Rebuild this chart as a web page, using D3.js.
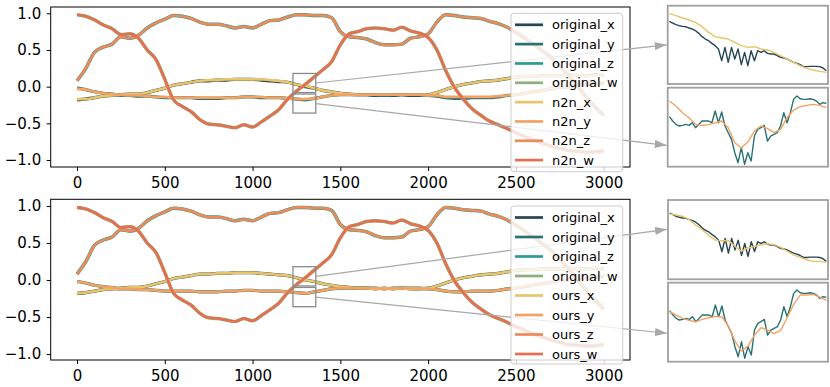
<!DOCTYPE html>
<html>
<head>
<meta charset="utf-8">
<script src="https://cdn.jsdelivr.net/npm/d3@7"></script>
<style>
body { margin: 0; background: #fff; }
svg { font-family: "DejaVu Sans", sans-serif; }
</style>
</head>
<body>
<svg width="830" height="387"></svg>
<script>
// quaternion keyframes, one sample every 50 frames (0..3000)
var frames = d3.range(0, 3001, 50);

var origX = [-0.18,-0.17,-0.15,-0.13,-0.12,-0.11,-0.10,-0.10,-0.08,-0.05,-0.02,0.02,0.04,
  0.06,0.08,0.08,0.09,0.09,0.10,0.10,0.10,0.09,0.08,0.07,0.06,
  0.03,0.00,-0.02,-0.05,-0.07,-0.09,-0.10,-0.11,-0.11,-0.12,-0.11,-0.12,
  -0.11,-0.12,-0.12,-0.11,-0.08,-0.04,0.00,0.03,0.05,0.07,0.08,0.09,
  0.11,0.13,0.14,0.14,0.15,0.15,0.15,0.16,0.15,0.15,0.16,0.15];
var origY = [-0.02,-0.04,-0.07,-0.09,-0.10,-0.12,-0.12,-0.13,-0.13,-0.14,-0.15,-0.15,-0.15,
  -0.15,-0.16,-0.16,-0.16,-0.15,-0.15,-0.14,-0.14,-0.15,-0.15,-0.15,-0.16,
  -0.17,-0.18,-0.16,-0.14,-0.12,-0.11,-0.11,-0.11,-0.11,-0.11,-0.12,-0.11,
  -0.11,-0.11,-0.11,-0.12,-0.13,-0.15,-0.16,-0.16,-0.15,-0.15,-0.15,-0.14,
  -0.12,-0.11,-0.09,-0.07,-0.05,-0.03,-0.01,0.00,0.02,0.03,0.04,0.05];
var origZ = [0.08,0.25,0.47,0.54,0.58,0.68,0.66,0.70,0.80,0.87,0.92,0.97,0.96,
  0.93,0.88,0.85,0.85,0.83,0.80,0.82,0.80,0.85,0.90,0.91,0.95,
  0.98,0.98,0.97,0.97,0.94,0.75,0.68,0.67,0.65,0.60,0.57,0.57,
  0.58,0.66,0.68,0.72,0.88,0.98,0.97,0.95,0.94,0.93,0.89,0.86,
  0.81,0.74,0.66,0.58,0.49,0.40,0.28,0.15,0.01,-0.14,-0.27,-0.39];
var origW = [0.98,0.96,0.91,0.84,0.79,0.71,0.72,0.66,0.50,0.37,0.10,-0.18,-0.27,
  -0.34,-0.45,-0.51,-0.52,-0.54,-0.56,-0.52,-0.55,-0.48,-0.40,-0.31,-0.17,
  -0.06,0.03,0.13,0.23,0.34,0.57,0.72,0.75,0.79,0.80,0.79,0.77,
  0.81,0.76,0.73,0.67,0.50,0.22,-0.01,-0.17,-0.30,-0.39,-0.47,-0.52,
  -0.57,-0.63,-0.68,-0.73,-0.77,-0.81,-0.84,-0.87,-0.88,-0.89,-0.89,-0.87];

var n2nX = [-0.17,-0.17,-0.15,-0.13,-0.12,-0.11,-0.10,-0.10,-0.08,-0.05,-0.02,0.02,0.04,
  0.06,0.08,0.09,0.09,0.10,0.10,0.10,0.10,0.10,0.09,0.08,0.06,
  0.03,0.01,-0.02,-0.05,-0.07,-0.09,-0.10,-0.11,-0.11,-0.11,-0.11,-0.11,
  -0.11,-0.11,-0.11,-0.11,-0.08,-0.04,0.00,0.03,0.05,0.07,0.08,0.09,
  0.11,0.13,0.14,0.14,0.15,0.15,0.15,0.15,0.15,0.15,0.15,0.15];
var n2nY = [-0.03,-0.04,-0.07,-0.09,-0.10,-0.11,-0.12,-0.12,-0.13,-0.14,-0.14,-0.15,-0.15,
  -0.15,-0.15,-0.15,-0.15,-0.15,-0.15,-0.14,-0.14,-0.14,-0.15,-0.15,-0.16,
  -0.17,-0.17,-0.16,-0.14,-0.12,-0.11,-0.11,-0.11,-0.11,-0.11,-0.11,-0.11,
  -0.11,-0.11,-0.11,-0.12,-0.12,-0.14,-0.14,-0.14,-0.14,-0.14,-0.14,-0.13,
  -0.12,-0.11,-0.09,-0.07,-0.05,-0.03,-0.01,0.00,0.02,0.03,0.04,0.05];
// n2n / ours z and w coincide with the originals at this scale
var n2nZ = origZ, n2nW = origW;

var oursX = [-0.18,-0.17,-0.15,-0.13,-0.12,-0.11,-0.10,-0.10,-0.08,-0.05,-0.02,0.02,0.04,
  0.06,0.08,0.08,0.09,0.09,0.10,0.10,0.10,0.09,0.08,0.07,0.06,
  0.03,0.00,-0.02,-0.05,-0.07,-0.09,-0.10,-0.11,-0.11,-0.12,-0.11,-0.12,
  -0.11,-0.12,-0.12,-0.11,-0.08,-0.04,0.00,0.03,0.05,0.07,0.08,0.09,
  0.11,0.13,0.14,0.14,0.15,0.15,0.15,0.16,0.15,0.15,0.16,0.15];
var oursY = [-0.02,-0.04,-0.07,-0.09,-0.10,-0.12,-0.12,-0.13,-0.13,-0.14,-0.15,-0.15,-0.15,
  -0.15,-0.16,-0.16,-0.16,-0.15,-0.15,-0.14,-0.14,-0.15,-0.15,-0.15,-0.16,
  -0.17,-0.18,-0.16,-0.14,-0.12,-0.11,-0.11,-0.11,-0.11,-0.11,-0.12,-0.11,
  -0.11,-0.11,-0.11,-0.12,-0.13,-0.15,-0.16,-0.16,-0.15,-0.15,-0.15,-0.14,
  -0.12,-0.11,-0.09,-0.07,-0.05,-0.03,-0.01,0.00,0.02,0.03,0.04,0.05];
var oursZ = origZ, oursW = origW;

var xTicks = [0, 500, 1000, 1500, 2000, 2500, 3000];
var yTicks = [-1.0, -0.5, 0.0, 0.5, 1.0];

// zoomed windows (frames 1235..1355), inset values in units of 4e-4
var insetFramesFine = d3.range(1235, 1355.01, 2.5);
var insetFrames = d3.range(1235, 1355.01, 5);
var insetOrigX = [73,68,63,60,58,57,53,50,45,37,27,20,15,7,0,-10,-45,-5,-50,-5,
  -40,-10,-57,-20,-60,-15,-45,-15,-20,-15,-23,-25,-25,-30,-35,-37,-40,-45,-50,-53,
  -57,-63,-63,-62,-62,-62,-63,-67,-75];
var insetOrigY = [33,20,10,5,7,10,7,15,0,10,20,20,20,15,50,15,47,5,-15,-35,
  -75,-105,-60,-110,-75,-100,-25,-5,0,7,-40,-25,-20,-15,5,45,15,45,85,95,
  87,85,85,87,85,80,70,75,73];
var insetN2nX = [97,90,83,77,70,57,40,27,23,20,10,0,-5,-3,-10,-13,-20,-30,-40,-50,-60,-68,-73,-77,-80];
var insetN2nY = [80,65,45,30,10,7,9,15,20,0,-45,-60,-43,-10,5,-3,-15,-5,30,53,63,67,70,67,60];
var insetOursX = [70,67,63,53,35,22,4,-10,-12,-11,-29,-44,-34,-29,-24,-21,-24,-32,-44,-55,-63,-70,-75,-75,-78];
var insetOursY = [30,20,10,4,0,7,12,16,14,-13,-58,-88,-73,-40,-18,-25,-36,-26,12,52,80,80,82,74,64];

// regions marked in the main plots
var zoomFrames = [1230, 1360];
var zoomBoxX = [-0.08, 0.18];
var zoomBoxY = [-0.36, -0.10];

var colors = {
  original_x: "#264653", original_y: "#287271", original_z: "#2a9d8f", original_w: "#8ab17d",
  m_x: "#e9c46a", m_y: "#f4a261", m_z: "#ee8959", m_w: "#e76f51"
};

var svg = d3.select("svg");
svg.append("rect").attr("width", 830).attr("height", 387).attr("fill", "#fff");

svg.append("defs").append("marker")
    .attr("id", "arrow")
    .attr("markerUnits", "userSpaceOnUse")
    .attr("viewBox", "0 0 12 8")
    .attr("markerWidth", 12).attr("markerHeight", 8)
    .attr("refX", 12).attr("refY", 4)
    .attr("orient", "auto")
  .append("path").attr("d", "M0,0L12,4L0,8Z").attr("fill", "#a8a8a8");

var panels = [
  { method: "n2n", top: 7, bottom: 167, yDom: [-1.095, 1.086],
    mx: n2nX, my: n2nY, mz: n2nZ, mw: n2nW,
    legendTop: 13.3, legendH: 158.4, legendStep: 19.33,
    insets: [
      { x0: 667.7, x1: 828, y0: 5.7, y1: 84, dom: [-115, 120], box: zoomBoxX, frac: 0.5,
        lines: [[insetFramesFine, insetOrigX, colors.original_x], [insetFrames, insetN2nX, colors.m_x]] },
      { x0: 667.7, x1: 828, y0: 87.7, y1: 166.7, dom: [-117, 120], box: zoomBoxY, frac: 0.73,
        lines: [[insetFramesFine, insetOrigY, colors.original_y], [insetFrames, insetN2nY, colors.m_y]] }
    ] },
  { method: "ours", top: 199.3, bottom: 360, yDom: [-1.08, 1.09],
    mx: oursX, my: oursY, mz: oursZ, mw: oursW,
    legendTop: 206, legendH: 158, legendStep: 19.5,
    insets: [
      { x0: 668, x1: 828, y0: 200, y1: 279.3, dom: [-130, 113], box: zoomBoxX, frac: 0.37,
        lines: [[insetFramesFine, insetOrigX, colors.original_x], [insetFrames, insetOursX, colors.m_x]] },
      { x0: 668, x1: 828, y0: 282.7, y1: 361.7, dom: [-120, 117], box: zoomBoxY, frac: 0.64,
        lines: [[insetFramesFine, insetOrigY, colors.original_y], [insetFrames, insetOursY, colors.m_y]] }
    ] }
];

var left = 50.7, right = 630;

panels.forEach(function(p, pi) {
  var x = d3.scaleLinear().domain([-150, 3150]).range([left, right]);
  var y = d3.scaleLinear().domain(p.yDom).range([p.bottom, p.top]);
  var g = svg.append("g");

  var line = d3.line()
      .x(function(d, i) { return x(frames[i]); })
      .y(function(d) { return y(d); })
      .curve(d3.curveMonotoneX);

  var series = [
    { name: "original_x", v: origX, c: colors.original_x, w: 3.2 },
    { name: "original_y", v: origY, c: colors.original_y, w: 3.2 },
    { name: "original_z", v: origZ, c: colors.original_z, w: 3.5 },
    { name: "original_w", v: origW, c: colors.original_w, w: 3.5 },
    { name: p.method + "_x", v: p.mx, c: colors.m_x, w: 2.7 },
    { name: p.method + "_y", v: p.my, c: colors.m_y, w: 2.7 },
    { name: p.method + "_z", v: p.mz, c: colors.m_z, w: 2.7 },
    { name: p.method + "_w", v: p.mw, c: colors.m_w, w: 2.7 }
  ];

  g.selectAll("path.series")
    .data(series)
    .enter().append("path")
      .attr("class", "series")
      .attr("fill", "none")
      .attr("stroke", function(d) { return d.c; })
      .attr("stroke-width", function(d) { return d.w; })
      .attr("stroke-linejoin", "round")
      .attr("d", function(d) { return line(d.v); });

  // axes
  var xAxis = g.append("g")
      .attr("transform", "translate(0," + p.bottom + ")")
      .call(d3.axisBottom(x).tickValues(xTicks).tickSize(4).tickPadding(6).tickFormat(d3.format("d")));
  var yAxis = g.append("g")
      .attr("transform", "translate(" + left + ",0)")
      .call(d3.axisLeft(y).tickValues(yTicks).tickSize(4).tickPadding(5.5).tickFormat(d3.format(".1f")));
  [xAxis, yAxis].forEach(function(a) {
    a.select(".domain").remove();
    a.selectAll("text").attr("font-size", 15).attr("fill", "#000").attr("font-family", "DejaVu Sans");
    a.selectAll("line").attr("stroke", "#000").attr("stroke-width", 1);
  });
  g.append("rect")
      .attr("x", left).attr("y", p.top)
      .attr("width", right - left).attr("height", p.bottom - p.top)
      .attr("fill", "none").attr("stroke", "#000").attr("stroke-width", 1);

  // zoom boxes, arrows and insets
  p.insets.forEach(function(ins) {
    var bx0 = x(zoomFrames[0]), bx1 = x(zoomFrames[1]);
    var by0 = y(ins.box[1]), by1 = y(ins.box[0]);
    g.append("rect")
        .attr("x", bx0).attr("y", by0)
        .attr("width", bx1 - bx0).attr("height", by1 - by0)
        .attr("fill", "none").attr("stroke", "#8a8a8a").attr("stroke-width", 1.3);

    var ty = ins.y0 + ins.frac * (ins.y1 - ins.y0);
    g.append("line")
        .attr("x1", bx1).attr("y1", (by0 + by1) / 2)
        .attr("x2", ins.x0 - 1).attr("y2", ty)
        .attr("stroke", "#a8a8a8").attr("stroke-width", 1.2)
        .attr("marker-end", "url(#arrow)");

    var ix = d3.scaleLinear().domain([1233.7, 1356.3]).range([ins.x0, ins.x1]);
    var iy = d3.scaleLinear().domain(ins.dom).range([ins.y1, ins.y0]);
    var clipId = "clip" + pi + "_" + ins.y0;
    svg.select("defs").append("clipPath").attr("id", clipId)
      .append("rect").attr("x", ins.x0).attr("y", ins.y0)
        .attr("width", ins.x1 - ins.x0).attr("height", ins.y1 - ins.y0);
    var ig = g.append("g").attr("clip-path", "url(#" + clipId + ")");
    ins.lines.forEach(function(l) {
      var fr = l[0];
      ig.append("path")
          .attr("fill", "none")
          .attr("stroke", l[2])
          .attr("stroke-width", 1.4)
          .attr("stroke-linejoin", "round")
          .attr("d", d3.line()
              .x(function(d, i) { return ix(fr[i]); })
              .y(function(d) { return iy(d); })(l[1]));
    });
    g.append("rect")
        .attr("x", ins.x0).attr("y", ins.y0)
        .attr("width", ins.x1 - ins.x0).attr("height", ins.y1 - ins.y0)
        .attr("fill", "none").attr("stroke", "#a0a0a0").attr("stroke-width", 1.8);
  });

  // legend
  var lg = g.append("g").attr("transform", "translate(511," + p.legendTop + ")");
  lg.append("rect")
      .attr("width", 111.7).attr("height", p.legendH).attr("rx", 3)
      .attr("fill", "#fff").attr("fill-opacity", 0.8)
      .attr("stroke", "#cccccc").attr("stroke-width", 1);
  var item = lg.selectAll("g.item")
    .data(series)
    .enter().append("g")
      .attr("class", "item")
      .attr("transform", function(d, i) { return "translate(0," + (11.5 + i * p.legendStep) + ")"; });
  item.append("line")
      .attr("x1", 4).attr("x2", 32)
      .attr("stroke", function(d) { return d.c; })
      .attr("stroke-width", 2.7);
  item.append("text")
      .attr("x", 41).attr("dy", "0.35em")
      .attr("font-size", 13).attr("fill", "#000")
      .text(function(d) { return d.name; });
});
</script>
</body>
</html>
